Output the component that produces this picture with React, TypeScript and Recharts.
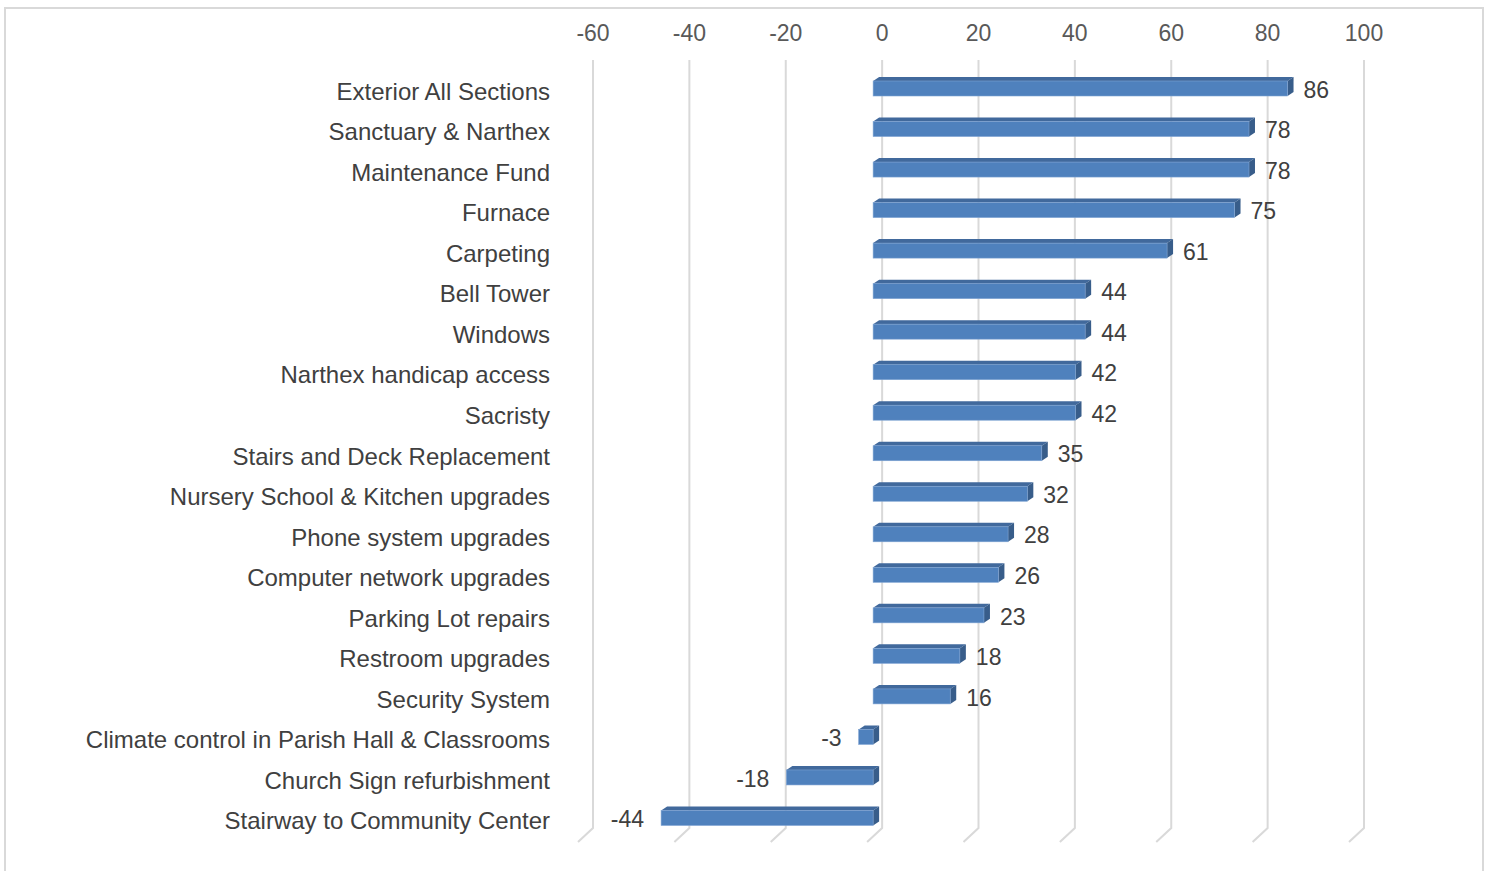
import { BarChart, Bar, XAxis, YAxis, CartesianGrid, LabelList } from "recharts";

const categories = [
  "Exterior All Sections",
  "Sanctuary & Narthex",
  "Maintenance Fund",
  "Furnace",
  "Carpeting",
  "Bell Tower",
  "Windows",
  "Narthex handicap access",
  "Sacristy",
  "Stairs and Deck Replacement",
  "Nursery School & Kitchen upgrades",
  "Phone system upgrades",
  "Computer network upgrades",
  "Parking Lot repairs",
  "Restroom upgrades",
  "Security System",
  "Climate control in Parish Hall & Classrooms",
  "Church Sign refurbishment",
  "Stairway to Community Center",
];

const scores = [86, 78, 78, 75, 61, 44, 44, 42, 42, 35, 32, 28, 26, 23, 18, 16, -3, -18, -44];

const xTicks = [-60, -40, -20, 0, 20, 40, 60, 80, 100];

const data = categories.map((name, i) => ({ name, score: scores[i] }));

const FONT = '"Liberation Sans", Arial, sans-serif';
// 3D look: front face sits a bit left of the back wall, depth goes up/right
const SHIFT = -9;
const DX = 6;
const DY = -4;

function Bar3D(props: any) {
  const { x, y, width, height } = props;
  const left = Math.min(x, x + width) + SHIFT;
  const w = Math.abs(width);
  const r = left + w;
  return (
    <g>
      <polygon
        points={`${left},${y} ${left + DX},${y + DY} ${r + DX},${y + DY} ${r},${y}`}
        fill="#41699c"
      />
      <polygon
        points={`${r},${y} ${r + DX},${y + DY} ${r + DX},${y + height + DY} ${r},${y + height}`}
        fill="#385d8a"
      />
      <rect x={left} y={y} width={w} height={height} fill="#4f81bd" stroke="#7ea3d2" strokeWidth={0.6} />
    </g>
  );
}

function ValueLabel(props: any) {
  const { x, y, width, height, value } = props;
  const left = Math.min(x, x + width) + SHIFT;
  const w = Math.abs(width);
  const neg = value < 0;
  return (
    <text
      x={neg ? left - 17 : left + w + DX + 10}
      y={y + height / 2 + 1}
      dy="0.355em"
      textAnchor={neg ? "end" : "start"}
      fill="#404040"
      fontSize={23}
      fontFamily={FONT}
    >
      {value}
    </text>
  );
}

function CategoryTick(props: any) {
  const { x, y, payload } = props;
  return (
    <text x={x} y={y + 3} dy="0.355em" textAnchor="end" fill="#404040" fontSize={24} fontFamily={FONT}>
      {payload.value}
    </text>
  );
}

function ValueTick(props: any) {
  const { x, y, payload } = props;
  return (
    <text x={x} y={y} dy={-27} textAnchor="middle" fill="#595959" fontSize={23} fontFamily={FONT}>
      {payload.value}
    </text>
  );
}

function GridLine(props: any) {
  const { x1, y1, y2 } = props;
  return (
    <path
      d={`M${x1},${y1 - 8} L${x1},${y2 - 10} L${x1 - 15},${y2 + 4}`}
      fill="none"
      stroke="#d9d9d9"
      strokeWidth={2}
    />
  );
}

export default function App() {
  return (
    <div style={{ position: "absolute", left: 0, top: 0, width: 1490, height: 871, background: "#fff", overflow: "hidden" }}>
      <div
        style={{
          position: "absolute",
          left: 4,
          top: 7,
          width: 1480,
          height: 900,
          border: "2px solid #d9d9d9",
          boxSizing: "border-box",
        }}
      />
      <BarChart
        width={1490}
        height={871}
        layout="vertical"
        data={data}
        margin={{ top: 0, right: 126, bottom: 33, left: 0 }}
        barSize={15}
      >
        <CartesianGrid horizontal={false} vertical={GridLine} />
        <XAxis
          type="number"
          orientation="top"
          domain={[-60, 100]}
          ticks={xTicks}
          height={68}
          axisLine={false}
          tickLine={false}
          tickSize={0}
          tickMargin={0}
          tick={ValueTick}
        />
        <YAxis
          type="category"
          dataKey="name"
          width={593}
          axisLine={false}
          tickLine={false}
          tickSize={0}
          tickMargin={43}
          tick={CategoryTick}
          interval={0}
        />
        <Bar dataKey="score" shape={Bar3D} isAnimationActive={false}>
          <LabelList dataKey="score" content={ValueLabel} />
        </Bar>
      </BarChart>
    </div>
  );
}
